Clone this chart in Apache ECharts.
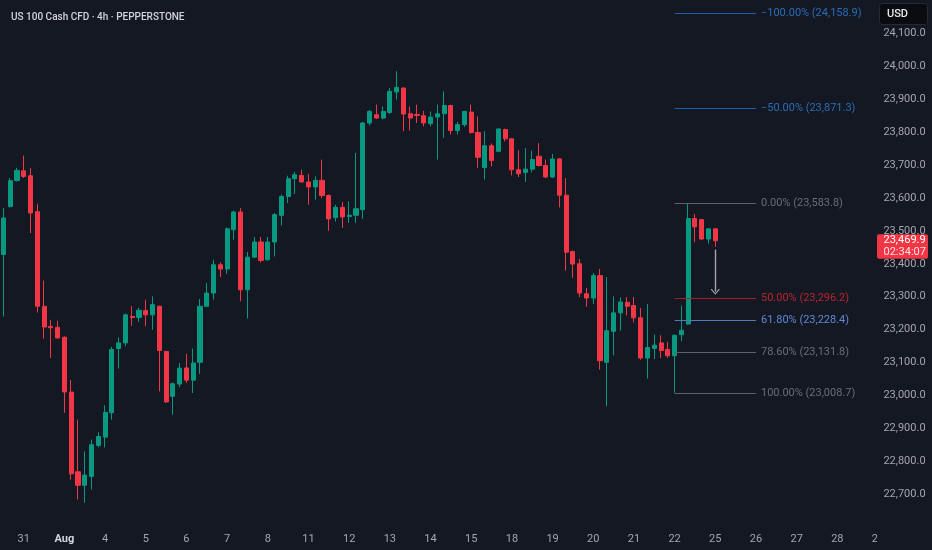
<!DOCTYPE html>
<html>
<head>
<meta charset="utf-8">
<script src="https://cdn.jsdelivr.net/npm/echarts@6/dist/echarts.min.js"></script>
<style>
html,body{margin:0;padding:0;background:#141823;}
#chart{width:932px;height:550px;}
</style>
</head>
<body>
<div id="chart"></div>
<script>
// ---- data (US 100 Cash CFD, 4h, Pepperstone) ----
const opens = [23428,23574,23652,23682,23667,23558,23271,23210,23207,23177,23011,22769,22728,22755,22849,22874,22948,23143,23160,23240,
  23237,23258,23245,23271,23134,22998,23035,23084,23047,23101,23271,23311,23397,23384,23503,23557,23321,23420,23466,23412,
  23466,23547,23604,23658,23668,23648,23633,23653,23607,23540,23571,23543,23547,23564,23827,23852,23842,23859,23921,23933,
  23855,23853,23849,23825,23845,23855,23880,23804,23822,23860,23798,23692,23758,23741,23807,23779,23685,23677,23687,23726,
  23698,23663,23718,23608,23437,23400,23309,23296,23364,23101,23195,23251,23283,23273,23236,23114,23143,23160,23140,23121,
  23185,23217,23537,23534,23475,23506];
const closes = [23539,23652,23683,23665,23554,23271,23208,23206,23175,23011,22763,22728,22759,22851,22876,22949,23140,23160,23245,23237,
  23259,23245,23276,23137,22981,23036,23083,23047,23099,23271,23311,23397,23384,23506,23557,23321,23420,23466,23410,23466,
  23549,23604,23658,23670,23648,23633,23653,23607,23536,23571,23542,23547,23567,23827,23862,23842,23862,23923,23935,23854,
  23842,23850,23827,23845,23855,23880,23804,23822,23862,23798,23723,23758,23713,23809,23779,23685,23673,23687,23716,23698,
  23663,23718,23608,23435,23399,23311,23296,23364,23106,23197,23251,23284,23271,23236,23114,23146,23153,23137,23121,23183,
  23198,23537,23512,23475,23506,23469.9];
const lows = [23240,23570,23650,23660,23493,23252,23173,23114,23172,22948,22745,22685,22675,22715,22843,22843,22927,23082,23150,23212,
  23224,23210,23200,23013,22978,22942,23025,23038,23008,23066,23270,23291,23360,23370,23473,23286,23234,23418,23404,23410,
  23422,23516,23584,23612,23647,23579,23594,23599,23500,23528,23509,23524,23524,23536,23819,23840,23838,23854,23898,23802,
  23804,23827,23817,23817,23716,23782,23792,23792,23815,23795,23691,23655,23695,23740,23771,23668,23663,23648,23677,23695,
  23660,23660,23571,23379,23357,23299,23269,23278,23079,22968,23122,23197,23243,23222,23109,23052,23111,23114,23114,23008.7,
  23165,23215,23465,23473,23461,23451];
const highs = [23569,23660,23691,23728,23690,23582,23349,23230,23227,23180,23048,22927,22831,22867,22889,22971,23148,23177,23249,23271,
  23266,23291,23301,23273,23136,23040,23099,23127,23143,23293,23342,23412,23404,23510,23561,23569,23436,23481,23481,23481,
  23554,23610,23667,23679,23685,23673,23665,23716,23610,23579,23587,23589,23736,23830,23867,23883,23877,23933,23984,23935,
  23877,23883,23864,23862,23883,23923,23882,23830,23864,23883,23847,23802,23765,23810,23810,23780,23744,23751,23743,23766,
  23716,23733,23720,23660,23440,23415,23327,23372,23384,23360,23301,23298,23299,23299,23266,23278,23185,23183,23163,23185,
  23273,23583.8,23551,23536,23508,23508];

const tradingDays = ['Jul 30','Jul 31','Aug 1','Aug 4','Aug 5','Aug 6','Aug 7','Aug 8','Aug 11','Aug 12','Aug 13','Aug 14',
  'Aug 15','Aug 18','Aug 19','Aug 20','Aug 21','Aug 22','Aug 25','Aug 26','Aug 27','Aug 28','Aug 29'];
const dayTickLabels = ['30','31','Aug','4','5','6','7','8','11','12','13','14','15','18','19','20','21','22','25','26','27','28','29'];
const barsPerDay = 6;
const firstBarOfDay = 3;   // first visible candle is the 4th bar of Jul 30
const visibleBars = 130;   // candles + empty future bars shown

const fibLevelNames = ['−100.00%','−50.00%','0.00%','50.00%','61.80%','78.60%','100.00%'];
const fibPrices = [24158.9, 23871.3, 23583.8, 23296.2, 23228.4, 23131.8, 23008.7];
const fibStartBar = 99, fibEndBar = 111;
const arrowBar = 105, arrowFrom = 23443, arrowTo = 23315;
const yTicks = {min: 22600, max: 24200, step: 100};
const countdown = '02:34:07';

// ---- styles ----
const BG = '#141823';
const UP = '#089981', DOWN = '#f23645';
const FONT = 'Roboto, "Noto Sans", sans-serif';
const fibLineColors = ['#1f5fa6','#1f5fa6','#5d606b','#a01f2b','#5877b8','#5d606b','#5d606b'];
const fibTextColors = ['#2a6cb6','#2a6cb6','#6a6d78','#b8242f','#6088d4','#6a6d78','#6a6d78'];

// ---- build ----
const categories = [];
tradingDays.forEach(d => { for (let s = 0; s < barsPerDay; s++) categories.push(d + ' ' + s); });
const cats = categories.slice(firstBarOfDay, firstBarOfDay + visibleBars);
const candles = opens.map((o, i) => [o, closes[i], lows[i], highs[i]]);
const fmt = v => v.toLocaleString('en-US', {minimumFractionDigits: 1, maximumFractionDigits: 1});

const fibData = fibPrices.map((p, k) => [
  {coord: [cats[fibStartBar], p], symbol: 'none',
   lineStyle: {color: fibLineColors[k], width: 1, type: 'solid'},
   label: {show: true, position: 'end', distance: 5, color: fibTextColors[k], fontSize: 11, fontFamily: FONT,
           formatter: fibLevelNames[k] + ' (' + fmt(p) + ')'}},
  {coord: [cats[fibEndBar], p], symbol: 'none'}
]);
fibData.push([
  {coord: [cats[arrowBar], arrowFrom], symbol: 'none', lineStyle: {color: '#a3a6ae', width: 1.4, type: 'solid'}, label: {show: false}},
  {coord: [cats[arrowBar], arrowTo], symbol: 'path://M5,0 L10,8 L9,9 L5,2.2 L1,9 L0,8 Z', symbolSize: [9, 6]}
]);

const chart = echarts.init(document.getElementById('chart'));
const gridWidth = visibleBars * 6.78;
chart.setOption({
  animation: false,
  backgroundColor: BG,
  title: {text: 'US 100 Cash CFD · 4h · PEPPERSTONE', left: 6, top: 7,
          textStyle: {color: '#d1d4dc', fontSize: 10, fontWeight: 500, fontFamily: FONT}},
  grid: {left: 0, top: 0, width: gridWidth, bottom: 22.5},
  xAxis: {
    type: 'category', data: cats, boundaryGap: true,
    axisLine: {show: false}, axisTick: {show: false}, splitLine: {show: false},
    axisLabel: {
      margin: 6, color: '#a3a6af', fontSize: 11, fontFamily: FONT,
      interval: (idx, val) => val.endsWith(' 0'),
      formatter: (val) => {
        const d = val.slice(0, val.lastIndexOf(' '));
        const t = dayTickLabels[tradingDays.indexOf(d)];
        return /^[A-Z]/.test(t) ? '{m|' + t + '}' : t;
      },
      rich: {m: {color: '#d1d4dc', fontWeight: 'bold', fontSize: 11, fontFamily: FONT}}
    }
  },
  yAxis: {
    type: 'value', position: 'right', z: 10,
    min: yTicks.min, max: yTicks.max, interval: yTicks.step,
    axisLine: {show: false}, axisTick: {show: false}, splitLine: {show: false},
    axisLabel: {margin: 2, color: '#a3a6af', fontSize: 11, fontFamily: FONT,
                showMinLabel: false, showMaxLabel: false, formatter: fmt}
  },
  series: [{
    type: 'candlestick', data: candles, barWidth: 4.6,
    itemStyle: {color: UP, color0: DOWN, borderColor: UP, borderColor0: DOWN, borderWidth: 1},
    markLine: {silent: true, animation: false, symbol: ['none', 'none'], data: fibData}
  }]
});

const last = closes[closes.length - 1];
const yTag = chart.convertToPixel({yAxisIndex: 0}, last);
chart.setOption({graphic: {elements: [
  {type: 'rect', silent: true, z: 5, shape: {x: 877, y: 0, width: 55, height: 550}, style: {fill: BG}},
  {type: 'rect', silent: true, z: 30, shape: {x: 879.5, y: 3.5, width: 48, height: 21, r: 3},
   style: {fill: '#0b0c10', stroke: '#262a34', lineWidth: 1}},
  {type: 'text', silent: true, z: 31, style: {text: 'USD', x: 887, y: 14, verticalAlign: 'middle',
   fill: '#e6e8ee', font: '500 11px ' + FONT}},
  {type: 'rect', silent: true, z: 30, shape: {x: 877, y: yTag - 6.5, width: 51, height: 24.5, r: 2}, style: {fill: DOWN}},
  {type: 'text', silent: true, z: 31, style: {text: fmt(last), x: 883.5, y: yTag, verticalAlign: 'middle',
   fill: '#ffffff', font: '11px ' + FONT}},
  {type: 'text', silent: true, z: 31, style: {text: countdown, x: 883.5, y: yTag + 11.5, verticalAlign: 'middle',
   fill: 'rgba(255,255,255,0.85)', font: '11px ' + FONT}}
]}});
</script>
</body>
</html>
